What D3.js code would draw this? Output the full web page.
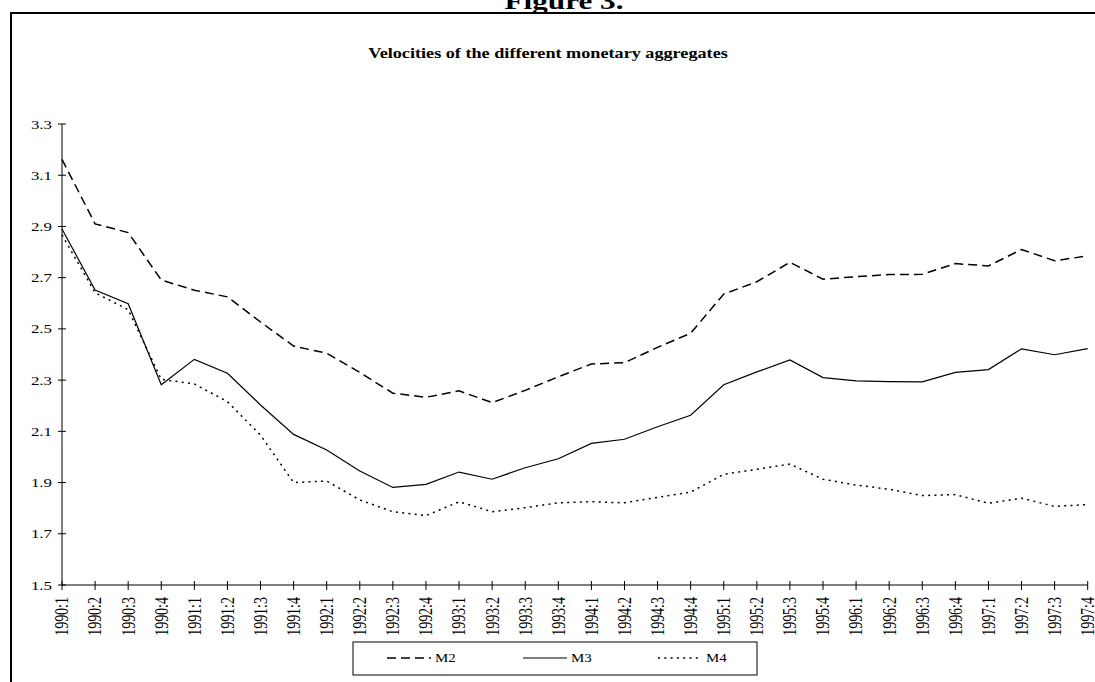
<!DOCTYPE html>
<html>
<head>
<meta charset="utf-8">
<script src="https://cdn.jsdelivr.net/npm/d3@7"></script>
<style>
body { margin: 0; background: #fff; }
text { font-family: "Liberation Serif", "Times New Roman", serif; fill: #000; }
</style>
</head>
<body>
<svg id="chart" width="1095" height="682"></svg>
<script>
var quarters = ["1990:1","1990:2","1990:3","1990:4","1991:1","1991:2","1991:3","1991:4",
	"1992:1","1992:2","1992:3","1992:4","1993:1","1993:2","1993:3","1993:4",
	"1994:1","1994:2","1994:3","1994:4","1995:1","1995:2","1995:3","1995:4",
	"1996:1","1996:2","1996:3","1996:4","1997:1","1997:2","1997:3","1997:4"];

var m2 = [3.162, 2.91, 2.876, 2.691, 2.651, 2.625, 2.527, 2.433,
	2.405, 2.33, 2.249, 2.233, 2.258, 2.212, 2.26, 2.313,
	2.363, 2.368, 2.428, 2.483, 2.636, 2.684, 2.76, 2.694,
	2.704, 2.712, 2.713, 2.755, 2.746, 2.81, 2.766, 2.785];

var m3 = [2.89, 2.652, 2.598, 2.282, 2.381, 2.327, 2.203, 2.088,
	2.027, 1.945, 1.881, 1.893, 1.941, 1.913, 1.958, 1.993,
	2.053, 2.069, 2.118, 2.163, 2.282, 2.332, 2.379, 2.31,
	2.297, 2.294, 2.293, 2.33, 2.341, 2.422, 2.399, 2.423];

var m4 = [2.867, 2.641, 2.575, 2.303, 2.285, 2.216, 2.085, 1.9,
	1.906, 1.832, 1.786, 1.771, 1.825, 1.786, 1.802, 1.821,
	1.825, 1.821, 1.842, 1.863, 1.932, 1.952, 1.972, 1.913,
	1.89, 1.874, 1.849, 1.853, 1.819, 1.839, 1.807, 1.814];

var yTicks = [1.5, 1.7, 1.9, 2.1, 2.3, 2.5, 2.7, 2.9, 3.1, 3.3];

var seriesNames = ["M2", "M3", "M4"];
var seriesDash = ["9,5", null, "2,4.3"];

var SX = 1.3; // picture is stretched sideways

var svg = d3.select("#chart");

// frame of the figure
svg.append("line").attr("x1", 10).attr("x2", 1095).attr("y1", 13).attr("y2", 13)
	.attr("stroke", "#000").attr("stroke-width", 2);
svg.append("line").attr("x1", 11).attr("x2", 11).attr("y1", 12).attr("y2", 682)
	.attr("stroke", "#000").attr("stroke-width", 2);

svg.append("text")
	.attr("transform", "translate(564,9) scale(" + SX + ",1)")
	.attr("text-anchor", "middle")
	.style("font-size", "24px").style("font-weight", "bold")
	.text("Figure 3.");

svg.append("text")
	.attr("transform", "translate(548,58) scale(" + SX + ",1)")
	.attr("text-anchor", "middle")
	.style("font-size", "14px").style("font-weight", "bold")
	.text("Velocities of the different monetary aggregates");

var x = d3.scalePoint().domain(quarters).range([62, 1087.7]);
var y = d3.scaleLinear().domain([1.5, 3.3]).range([585, 124]);

// y axis
svg.append("line").attr("x1", x(quarters[0])).attr("x2", x(quarters[0]))
	.attr("y1", y(3.3)).attr("y2", y(1.5)).attr("stroke", "#000");
var yt = svg.selectAll("g.ytick").data(yTicks).enter().append("g").classed("ytick", true);
yt.append("line")
	.attr("x1", x(quarters[0]) - 4).attr("x2", x(quarters[0]) + 4)
	.attr("y1", function(d) { return y(d); }).attr("y2", function(d) { return y(d); })
	.attr("stroke", "#000");
yt.append("text")
	.attr("transform", function(d) { return "translate(52," + y(d) + ") scale(" + SX + ",1)"; })
	.attr("text-anchor", "end").attr("dy", "0.35em")
	.style("font-size", "13px")
	.text(function(d) { return d3.format(".1f")(d); });

// x axis
svg.append("line").attr("x1", x(quarters[0])).attr("x2", x(quarters[quarters.length - 1]))
	.attr("y1", y(1.5)).attr("y2", y(1.5)).attr("stroke", "#000");
var xt = svg.selectAll("g.xtick").data(quarters).enter().append("g").classed("xtick", true);
xt.append("line")
	.attr("x1", function(d) { return x(d); }).attr("x2", function(d) { return x(d); })
	.attr("y1", y(1.5) - 4).attr("y2", y(1.5) + 5)
	.attr("stroke", "#000");
xt.append("text")
	.attr("transform", function(d) { return "translate(" + x(d) + ",597) scale(" + SX + ",1) rotate(-90)"; })
	.attr("text-anchor", "end").attr("dy", "0.35em")
	.style("font-size", "14px")
	.text(function(d) { return d; });

// series
var allSeries = [m2, m3, m4];
var line = d3.line()
	.x(function(d, i) { return x(quarters[i]); })
	.y(function(d) { return y(d); });

svg.selectAll("path.series").data(allSeries).enter().append("path")
	.classed("series", true)
	.attr("d", line)
	.attr("fill", "none")
	.attr("stroke", "#000")
	.attr("stroke-width", function(d, i) { return i === 1 ? 1.2 : 1.5; })
	.attr("stroke-dasharray", function(d, i) { return seriesDash[i]; });

// legend
svg.append("rect").attr("x", 353).attr("y", 642).attr("width", 404).attr("height", 33)
	.attr("fill", "#fff").attr("stroke", "#000");
var legX = [387, 523, 658];
var lg = svg.selectAll("g.leg").data(seriesNames).enter().append("g").classed("leg", true);
lg.append("line")
	.attr("x1", function(d, i) { return legX[i]; })
	.attr("x2", function(d, i) { return legX[i] + 44; })
	.attr("y1", 658).attr("y2", 658)
	.attr("stroke", "#000")
	.attr("stroke-width", function(d, i) { return i === 1 ? 1.2 : 1.5; })
	.attr("stroke-dasharray", function(d, i) { return seriesDash[i]; });
lg.append("text")
	.attr("transform", function(d, i) { return "translate(" + (legX[i] + 48) + ",658) scale(" + SX + ",1)"; })
	.attr("dy", "0.35em")
	.style("font-size", "11.5px")
	.text(function(d) { return d; });
</script>
</body>
</html>
